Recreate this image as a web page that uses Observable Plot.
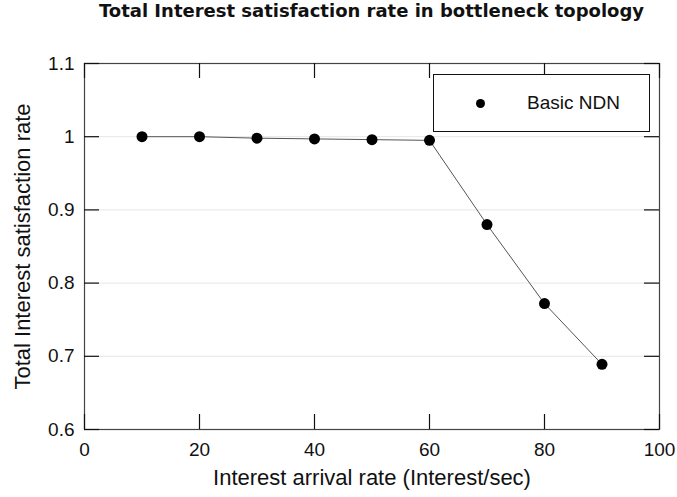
<!DOCTYPE html>
<html><head><meta charset="utf-8">
<script src="https://cdn.jsdelivr.net/npm/d3@7"></script>
<script src="https://cdn.jsdelivr.net/npm/@observablehq/plot@0.6"></script>
<style>
body{margin:0;background:#fff;}
#wrap{position:relative;width:677px;height:497px;background:#fff;}
#title{height:40px;line-height:40px;font:bold 18px "DejaVu Sans",sans-serif;text-align:center;padding-left:66px;box-sizing:border-box;width:677px;color:#111;white-space:nowrap;}
#legend{position:absolute;left:433px;top:74px;width:217px;height:58px;border:1.5px solid #111;background:#fff;box-sizing:border-box;font:19px "Liberation Sans",Arial,sans-serif;color:#111;}
#legend .dot{position:absolute;left:42px;top:24px;width:9px;height:9px;border-radius:50%;background:#000;}
#legend .lab{position:absolute;left:93px;top:0;line-height:56px;}
</style></head>
<body>
<div id="wrap">
<div id="title"></div>
<div id="chart"></div>
<div id="legend"><div class="dot"></div><div class="lab"></div></div>
</div>
<script>
const titleText = "Total Interest satisfaction rate in bottleneck topology";
const xLabel = "Interest arrival rate (Interest/sec)";
const yLabel = "Total Interest satisfaction rate";
const seriesName = "Basic NDN";
const rate = [10, 20, 30, 40, 50, 60, 70, 80, 90];
const basicNDN = [1.0, 1.0, 0.998, 0.997, 0.996, 0.995, 0.880, 0.772, 0.689];
const xTicks = [0, 20, 40, 60, 80, 100];
const yTicks = [0.6, 0.7, 0.8, 0.9, 1.0, 1.1];
const yTickLabels = ["0.6", "0.7", "0.8", "0.9", "1", "1.1"];
const gridY = [0.7, 0.8, 0.9, 1.0];

document.getElementById("title").textContent = titleText;
document.querySelector("#legend .lab").textContent = seriesName;

const data = rate.map((r, i) => ({rate: r, value: basicNDN[i]}));

const W = 677, H = 457, mL = 84, mR = 18, mT = 23, mB = 68;
const fw = W - mL - mR, fh = H - mT - mB, tl = 15;

const chart = Plot.plot({
  width: W, height: H,
  marginLeft: mL, marginRight: mR, marginTop: mT, marginBottom: mB,
  style: {fontFamily: "'Liberation Sans', Arial, sans-serif", fontSize: "19px", color: "#111", background: "#fff", overflow: "visible"},
  x: {domain: [0, 100]},
  y: {domain: [0.6, 1.1]},
  marks: [
    Plot.ruleY(gridY, {stroke: "#e6e6e6", strokeWidth: 1}),
    Plot.line(data, {x: "rate", y: "value", stroke: "#555", strokeWidth: 1}),
    Plot.dot(data, {x: "rate", y: "value", r: 5.5, fill: "#000"}),
    Plot.frame({stroke: "#444", strokeWidth: 1.2}),
    Plot.ruleX(xTicks, {insetTop: fh - tl, stroke: "#111", strokeWidth: 1.2}),
    Plot.ruleX(xTicks, {insetBottom: fh - tl, stroke: "#111", strokeWidth: 1.2}),
    Plot.ruleY(yTicks, {insetRight: fw - tl, stroke: "#111", strokeWidth: 1.2}),
    Plot.ruleY(yTicks, {insetLeft: fw - tl, stroke: "#111", strokeWidth: 1.2}),
    Plot.axisX({ticks: xTicks, tickSize: 0, tickPadding: 13, label: null, fontSize: 19}),
    Plot.axisY({ticks: yTicks, tickSize: 0, tickPadding: 10, label: null, fontSize: 19,
      tickFormat: d => yTickLabels[yTicks.findIndex(t => Math.abs(t - d) < 1e-9)]}),
    Plot.text([xLabel], {frameAnchor: "bottom", dy: 55, text: d => d, fontSize: 22}),
    Plot.text([yLabel], {frameAnchor: "left", dx: -62, rotate: -90, textAnchor: "middle", text: d => d, fontSize: 22})
  ]
});
document.getElementById("chart").appendChild(chart);
</script>
</body></html>
